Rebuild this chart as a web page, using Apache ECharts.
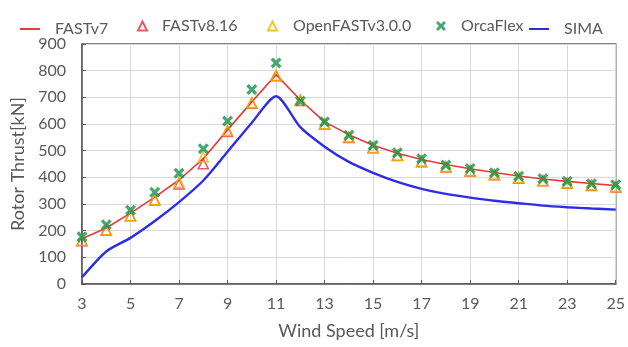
<!DOCTYPE html>
<html>
<head>
<meta charset="utf-8">
<script src="https://cdn.jsdelivr.net/npm/echarts@6/dist/echarts.min.js"></script>
<style>
  html, body { margin: 0; padding: 0; background: #fff; }
  #chart { width: 628px; height: 347px; }
</style>
</head>
<body>
<div id="chart"></div>
<script>
const windSpeeds = ['3', '4', '5', '6', '7', '8', '9', '10', '11', '12', '13', '14', '15', '16', '17', '18', '19', '20', '21', '22', '23', '24', '25'];
const yTicks = [0, 900, 100];

const fastV7 = [170, 210, 266, 326, 390, 470, 578, 683, 785, 690, 608, 560, 520, 490, 467, 448, 432, 418, 405, 394, 385, 377, 369];
const fastV816 = [162, 202, 256, 315, 375, 451, 572, 678, 781, 688, 600, 550, 511, 482, 459, 439, 424, 410, 397, 387, 378, 370, 364];
const openFast300 = [163, 203, 257, 316, 381, 476, 576, 680, 783, 690, 601, 551, 512, 483, 460, 440, 425, 411, 398, 388, 379, 371, 365];
const orcaFlex = [177, 222, 277, 344, 415, 507, 611, 729, 829, 686, 608, 558, 520, 492, 470, 446, 433, 417, 404, 395, 385, 376, 372];
const sima = [25, 122, 173, 236, 307, 388, 496, 605, 704, 588, 515, 458, 417, 383, 357, 338, 324, 312, 303, 294, 288, 283, 279];

const FONT = 'Lato';
const GREY = '#595959';
// filled "x" marker
const crossPath = 'path://M0,2.1L2.1,0L5,2.9L7.9,0L10,2.1L7.1,5L10,7.9L7.9,10L5,7.1L2.1,10L0,7.9L2.9,5Z';
const lineIcon = 'path://M0,0H10V1H0Z';

const chart = echarts.init(document.getElementById('chart'));

const legendText = { fontFamily: FONT, fontSize: 16, color: GREY };
const makeLegend = (item, left, w, h, pad, top) => ({
  data: [item],
  left: left,
  top: top,
  itemWidth: w,
  itemHeight: h,
  itemGap: 0,
  selectedMode: false,
  textStyle: Object.assign({ padding: [0, 0, 0, pad] }, legendText),
});

chart.setOption({
  animation: false,
  legend: [
    makeLegend({ name: 'FASTv7', icon: lineIcon }, 15, 36, 2, 2, 16),
    makeLegend('FASTv8.16', 132, 9, 9, 10, 13),
    makeLegend('OpenFASTv3.0.0', 262, 9, 9, 11, 13),
    makeLegend('OrcaFlex', 431, 10, 10, 10, 13),
    makeLegend({ name: 'SIMA', icon: lineIcon }, 524, 40, 2, 0, 16),
  ],
  grid: {
    left: 82, right: 10, top: 44, bottom: 63,
    show: true, borderColor: GREY, borderWidth: 1.5,
  },
  xAxis: {
    type: 'category',
    data: windSpeeds,
    boundaryGap: false,
    name: 'Wind Speed [m/s]',
    nameLocation: 'middle',
    nameGap: 38,
    nameTextStyle: { fontFamily: FONT, fontSize: 18, color: GREY },
    axisLine: { lineStyle: { color: GREY, width: 1.5 } },
    axisTick: { inside: true, length: 4, interval: 1, lineStyle: { color: GREY } },
    axisLabel: { interval: 1, fontFamily: FONT, fontSize: 16, color: GREY, margin: 12 },
    splitLine: { show: true, interval: 1, lineStyle: { color: '#d9d9d9' } },
  },
  yAxis: {
    type: 'value',
    min: yTicks[0], max: yTicks[1], interval: yTicks[2],
    name: 'Rotor Thrust[kN]',
    nameLocation: 'middle',
    nameGap: 52,
    nameTextStyle: { fontFamily: FONT, fontSize: 18, color: GREY },
    axisLine: { show: true, lineStyle: { color: GREY, width: 1.5 } },
    axisTick: { show: true, inside: true, length: 4, lineStyle: { color: GREY } },
    axisLabel: { fontFamily: FONT, fontSize: 16, color: GREY, margin: 16 },
    splitLine: { lineStyle: { color: '#d9d9d9' } },
  },
  series: [
    {
      name: 'FASTv7', type: 'line', data: fastV7, symbol: 'none', z: 3,
      lineStyle: { color: '#e8393a', width: 1.6 }, itemStyle: { color: '#e8393a' },
    },
    {
      name: 'SIMA', type: 'line', data: sima, symbol: 'none', smooth: 0.25, z: 2,
      lineStyle: { color: '#2d2de6', width: 2.4 }, itemStyle: { color: '#2d2de6' },
    },
    {
      name: 'FASTv8.16', type: 'scatter', data: fastV816, symbol: 'triangle', symbolSize: 10, z: 4,
      itemStyle: { color: 'rgba(255,255,255,0)', borderColor: '#e0303c', borderWidth: 1.6 },
    },
    {
      name: 'OpenFASTv3.0.0', type: 'scatter', data: openFast300, symbol: 'triangle', symbolSize: 10, z: 5,
      itemStyle: { color: 'rgba(255,255,255,0)', borderColor: '#f5b400', borderWidth: 1.6 },
    },
    {
      name: 'OrcaFlex', type: 'scatter', data: orcaFlex, symbol: crossPath, symbolSize: 11, z: 6,
      itemStyle: { color: '#17924a' },
    },
  ],
});
</script>
</body>
</html>
